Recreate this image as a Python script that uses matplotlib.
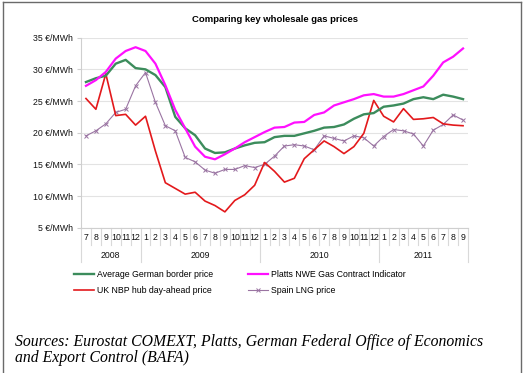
import matplotlib
matplotlib.use("Agg")
import matplotlib.pyplot as plt
import matplotlib.transforms as mtransforms
from matplotlib.lines import Line2D

# ---- data ----
years = ["2008", "2009", "2010", "2011"]
year_months = [list(range(7, 13)), list(range(1, 13)), list(range(1, 13)), list(range(1, 10))]
month_labels = [str(m) for ms in year_months for m in ms]

german_border = [28.0, 28.6, 29.0, 30.9, 31.5, 30.2, 30.0, 29.1, 27.2, 22.5,
                 20.7, 19.6, 17.5, 16.8, 16.9, 17.5, 18.0, 18.4, 18.5, 19.3,
                 19.5, 19.5, 19.9, 20.3, 20.8, 20.9, 21.3, 22.2, 22.9, 23.1,
                 24.1, 24.3, 24.6, 25.3, 25.6, 25.3, 26.0, 25.7, 25.3]
platts_nwe = [27.4, 28.3, 29.6, 31.7, 32.9, 33.5, 32.9, 30.9, 27.5, 23.6,
              20.7, 17.8, 16.2, 15.8, 16.6, 17.5, 18.5, 19.3, 20.1, 20.8,
              20.9, 21.6, 21.7, 22.8, 23.2, 24.3, 24.8, 25.3, 25.9, 26.1,
              25.7, 25.7, 26.1, 26.7, 27.3, 29.0, 31.1, 32.0, 33.3]
uk_nbp = [25.4, 23.7, 29.3, 22.7, 22.9, 21.2, 22.6, 17.1, 12.1, 11.2,
          10.3, 10.6, 9.2, 8.5, 7.5, 9.3, 10.2, 11.7, 15.3, 13.9,
          12.2, 12.8, 15.9, 17.3, 18.7, 17.8, 16.7, 17.8, 19.9, 25.1,
          22.6, 21.7, 23.8, 22.1, 22.2, 22.4, 21.4, 21.2, 21.1]
spain_lng = [19.5, 20.3, 21.4, 23.2, 23.7, 27.4, 29.5, 24.8, 21.1, 20.3,
             16.1, 15.4, 14.1, 13.6, 14.2, 14.2, 14.8, 14.5, 15.0, 16.3,
             17.9, 18.1, 17.9, 17.3, 19.5, 19.1, 18.7, 19.5, 19.2, 17.9,
             19.4, 20.5, 20.3, 19.8, 17.9, 20.4, 21.3, 22.8, 22.0]

series_names = ["Average German border price", "Platts NWE Gas Contract Indicator",
                "UK NBP hub day-ahead price", "Spain LNG price"]
y_ticks = [5, 10, 15, 20, 25, 30, 35]

# ---- figure ----
W, H = 523, 373
fig = plt.figure(figsize=(W / 100, H / 100), dpi=100)
plt.rcParams['font.family'] = ['Liberation Sans', 'DejaVu Sans']

left, right, top, bottom = 81, 468, 37.7, 227.7
ax = fig.add_axes([left / W, 1 - bottom / H, (right - left) / W, (bottom - top) / H])

x = list(range(len(month_labels)))
c_green = "#3c8c5c"
c_mag = "#ff10ff"
c_red = "#e3191c"
c_pur = "#9a74a2"

l_spain, = ax.plot(x, spain_lng, color=c_pur, lw=0.8, marker="x", ms=2.2, mew=0.7, zorder=3)
l_red, = ax.plot(x, uk_nbp, color=c_red, lw=1.2, zorder=4)
l_green, = ax.plot(x, german_border, color=c_green, lw=1.7, zorder=5)
l_mag, = ax.plot(x, platts_nwe, color=c_mag, lw=1.6, zorder=6)

ax.set_xlim(-0.5, len(x) - 0.5)
ax.set_ylim(5, 35)
ax.set_yticks(y_ticks)
ax.set_yticklabels([f"{v} €/MWh" for v in y_ticks], fontsize=6.3)
ax.yaxis.grid(True, color="#e3e3e3", lw=0.8)
ax.set_axisbelow(True)
for s in ["top", "right"]:
    ax.spines[s].set_visible(False)
ax.spines["left"].set_color("#cfcfcf")
ax.spines["bottom"].set_color("#cfcfcf")
ax.spines["left"].set_linewidth(0.8)
ax.spines["bottom"].set_linewidth(0.8)
ax.tick_params(axis="y", length=3, color="#cfcfcf", pad=3, labelcolor="#111111")

ax.set_xticks(x)
ax.set_xticklabels(month_labels, fontsize=6.3)
ax.tick_params(axis="x", length=0, pad=3.5, labelcolor="#111111")

# category separators
trans = mtransforms.blended_transform_factory(ax.transData, ax.transAxes)
axh = bottom - top
month_depth = 17 / axh
year_depth = 34 / axh
bounds = [-0.5]
for ms in year_months:
    bounds.append(bounds[-1] + len(ms))
for i in range(1, len(x)):
    b = i - 0.5
    if b in bounds:
        continue
    ax.plot([b, b], [0, -month_depth], transform=trans, color="#d9d9d9", lw=0.8, clip_on=False)
for b in bounds:
    ax.plot([b, b], [0, -year_depth], transform=trans, color="#d9d9d9", lw=0.8, clip_on=False)
for yr, b0, b1 in zip(years, bounds[:-1], bounds[1:]):
    ax.text((b0 + b1) / 2, -28 / axh, yr, transform=trans, ha="center", va="center",
            fontsize=6.3, color="#111111")

# title
fig.text(0.526, 1 - 20 / H, "Comparing key wholesale gas prices", ha="center", va="center",
         fontsize=6.8, fontweight="bold")

# legend
handles = [l_green, l_red, l_mag, l_spain]
labels = [series_names[0], series_names[2], series_names[1], series_names[3]]
leg = fig.legend(handles, labels, ncol=2, loc="upper left",
                 bbox_to_anchor=(74 / W, 1 - 270 / H), frameon=False, fontsize=6.3,
                 handlelength=2.3, handletextpad=0.3, columnspacing=4.0,
                 labelspacing=0.75, borderpad=0, borderaxespad=0)

# sources
src_kw = dict(fontsize=11.3, family="Liberation Serif", style="italic", ha="left", va="baseline")
fig.text(15 / W, 1 - 346 / H, "Sources: Eurostat COMEXT, Platts, German Federal Office of Economics", **src_kw)
fig.text(15 / W, 1 - 362 / H, "and Export Control (BAFA)", **src_kw)

# frame border
for xs, ys in [([3, 3], [0, 371]), ([3, 520.5], [371, 371]), ([520.5, 520.5], [0, 371])]:
    fig.add_artist(Line2D([v / W for v in xs], [v / H for v in ys], color="#6a6a6a", lw=1.0,
                          transform=fig.transFigure))

fig.savefig("out.png", dpi=100)
